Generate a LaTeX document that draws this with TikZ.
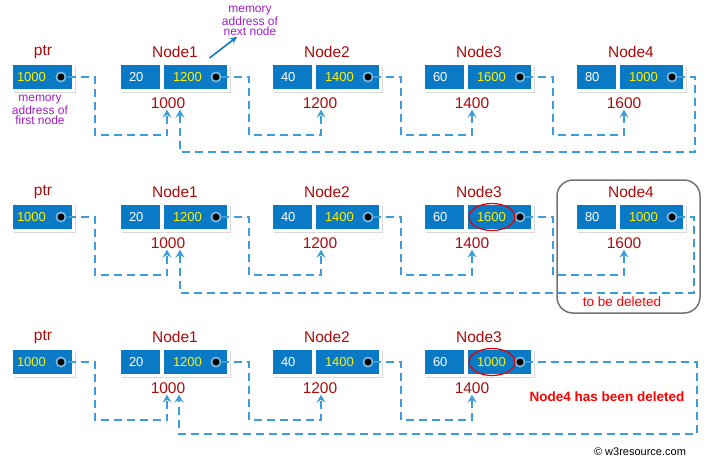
\documentclass[tikz,border=0pt]{standalone}
\usepackage{fontspec}
\setmainfont{Liberation Sans}
\usetikzlibrary{arrows.meta, shapes.geometric, shadows}
\definecolor{cellblue}{RGB}{10,122,198}
\definecolor{linkblue}{RGB}{60,157,219}
\definecolor{titlered}{RGB}{170,10,10}
\definecolor{notepurple}{RGB}{160,30,200}

\begin{document}
\begin{tikzpicture}[x=1pt, y=-1pt,
    cell/.style={fill=cellblue, draw=white, line width=3pt, minimum height=27pt, inner ysep=0pt, align=left, font=\fontsize{13}{15}\selectfont, drop shadow={shadow xshift=2pt, shadow yshift=-2.5pt, opacity=0.3}},
    datacell/.style={cell, text=white, text width=23pt, inner xsep=9.5pt},
    nextcell/.style={cell, text=yellow, text width=45pt, inner xsep=10.5pt, path picture={
        \fill[white!60!cyan!70!cellblue] ([xshift=-12.5pt]path picture bounding box.east) circle (5.5pt);
        \fill[black] ([xshift=-12.5pt]path picture bounding box.east) circle (3.5pt);}},
    ptrcell/.style={nextcell, text width=51pt, inner xsep=5.5pt},
    title/.style={text=titlered, font=\fontsize{15.5}{17}\selectfont, inner sep=1pt},
    note/.style={text=notepurple, font=\fontsize{12}{10.5}\selectfont, align=center, inner sep=1pt},
    link/.style={draw=linkblue, line width=2pt, dash pattern=on 8pt off 5pt, -{Stealth[length=8pt, width=9pt, inset=3pt]}},
    pointer/.style={draw=cellblue, line width=1.6pt, -{Stealth[length=7pt, width=6.5pt]}},
    ring/.style={ellipse, draw=red!90!black, line width=1.2pt, minimum width=46pt, minimum height=27pt, inner sep=0pt},
    delbox/.style={draw=black!55, line width=1.5pt, rounded corners=16pt, minimum width=143pt, minimum height=133pt},
    warn/.style={text=red, font=\fontsize{13.5}{15}\selectfont, inner sep=1pt}]
    \useasboundingbox (0,0) rectangle (710,467);

    \node[title] (r1t0) at (43,52) {ptr};
    \node[ptrcell] (r1p) at (42.5,77) {1000};
    \node[note] (firstlbl) at (40,110) {memory\\address of\\first node};
    \node[note] (nextlbl) at (250,21) {memory\\address of\\next node};
    \node[title] (r1t1) at (175,52) {Node1};
    \node[datacell] (r1d1) at (140.5,77) {20};
    \node[nextcell] (r1n1) at (195.5,77) {1200};
    \node[title] (r1a1) at (168,103) {1000};
    \node[title] (r1t2) at (327,52) {Node2};
    \node[datacell] (r1d2) at (292.5,77) {40};
    \node[nextcell] (r1n2) at (347.5,77) {1400};
    \node[title] (r1a2) at (320,103) {1200};
    \node[title] (r1t3) at (479,52) {Node3};
    \node[datacell] (r1d3) at (444.5,77) {60};
    \node[nextcell] (r1n3) at (499.5,77) {1600};
    \node[title] (r1a3) at (472,103) {1400};
    \node[title] (r1t4) at (631,52) {Node4};
    \node[datacell] (r1d4) at (596.5,77) {80};
    \node[nextcell] (r1n4) at (651.5,77) {1000};
    \node[title] (r1a4) at (624,103) {1600};
    \draw[pointer] ([xshift=14pt, yshift=4pt]r1n1.north) -- ([xshift=-13pt]nextlbl.south);
    \draw[link] ([xshift=-7.5pt]r1p.east) -- ++(27,0) -- ++(0,58) -| ([xshift=-1pt]r1a1.south);
    \draw[link] ([xshift=-9pt]r1n1.east) -- ++(28,0) -- ++(0,58) -| ([xshift=1pt]r1a2.south);
    \draw[link] ([xshift=-9pt]r1n2.east) -- ++(28,0) -- ++(0,58) -| (r1a3.south);
    \draw[link] ([xshift=-9pt]r1n3.east) -- ++(28,0) -- ++(0,58) -| (r1a4.south);
    \draw[link] ([xshift=-9pt]r1n4.east) -- ++(18,0) -- ++(0,75) -| ([xshift=12pt]r1a1.south);

    \node[title] (r2t0) at (43,192) {ptr};
    \node[ptrcell] (r2p) at (42.5,217) {1000};
    \node[title] (r2t1) at (175,192) {Node1};
    \node[datacell] (r2d1) at (140.5,217) {20};
    \node[nextcell] (r2n1) at (195.5,217) {1200};
    \node[title] (r2a1) at (168,243) {1000};
    \node[title] (r2t2) at (327,192) {Node2};
    \node[datacell] (r2d2) at (292.5,217) {40};
    \node[nextcell] (r2n2) at (347.5,217) {1400};
    \node[title] (r2a2) at (320,243) {1200};
    \node[title] (r2t3) at (479,192) {Node3};
    \node[datacell] (r2d3) at (444.5,217) {60};
    \node[nextcell] (r2n3) at (499.5,217) {1600};
    \node[ring] (r2ring) at (492,217) {};
    \node[title] (r2a3) at (472,243) {1400};
    \node[delbox] (r2box) at (628.5,246.5) {};
    \node[title] (r2t4) at (631,192) {Node4};
    \node[datacell] (r2d4) at (596.5,217) {80};
    \node[nextcell] (r2n4) at (651.5,217) {1000};
    \node[title] (r2a4) at (624,243) {1600};
    \node[warn] (r2del) at (622,302) {to be deleted};
    \draw[link] ([xshift=-7.5pt]r2p.east) -- ++(27,0) -- ++(0,58) -| ([xshift=-1pt]r2a1.south);
    \draw[link] ([xshift=-9pt]r2n1.east) -- ++(28,0) -- ++(0,58) -| ([xshift=1pt]r2a2.south);
    \draw[link] ([xshift=-9pt]r2n2.east) -- ++(28,0) -- ++(0,58) -| (r2a3.south);
    \draw[link] ([xshift=-9pt]r2n3.east) -- ++(28,0) -- ++(0,58) -| (r2a4.south);
    \draw[link] ([xshift=-9pt]r2n4.east) -- ++(17,0) -- ++(0,76) -| ([xshift=12pt]r2a1.south);

    \node[title] (r3t0) at (43,337) {ptr};
    \node[ptrcell] (r3p) at (42.5,362) {1000};
    \node[title] (r3t1) at (175,337) {Node1};
    \node[datacell] (r3d1) at (140.5,362) {20};
    \node[nextcell] (r3n1) at (195.5,362) {1200};
    \node[title] (r3a1) at (168,388) {1000};
    \node[title] (r3t2) at (327,337) {Node2};
    \node[datacell] (r3d2) at (292.5,362) {40};
    \node[nextcell] (r3n2) at (347.5,362) {1400};
    \node[title] (r3a2) at (320,388) {1200};
    \node[title] (r3t3) at (479,337) {Node3};
    \node[datacell] (r3d3) at (444.5,362) {60};
    \node[nextcell] (r3n3) at (499.5,362) {1000};
    \node[ring] (r3ring) at (492,362) {};
    \node[title] (r3a3) at (472,388) {1400};
    \node[warn, font=\bfseries\fontsize{13.5}{15}\selectfont] (r3del) at (607,397) {Node4 has been deleted};
    \node[font=\fontsize{11}{13}\selectfont, inner sep=1pt] (credit) at (640,452) {© w3resource.com};
    \draw[link] ([xshift=-7.5pt]r3p.east) -- ++(27,0) -- ++(0,58) -| ([xshift=-1pt]r3a1.south);
    \draw[link] ([xshift=-9pt]r3n1.east) -- ++(28,0) -- ++(0,58) -| ([xshift=1pt]r3a2.south);
    \draw[link] ([xshift=-9pt]r3n2.east) -- ++(28,0) -- ++(0,58) -| (r3a3.south);
    \draw[link] ([xshift=-9pt]r3n3.east) -- ++(171.5,0) -- ++(0,72) -| ([xshift=11pt]r3a1.south);
  \end{tikzpicture}
\end{document}
